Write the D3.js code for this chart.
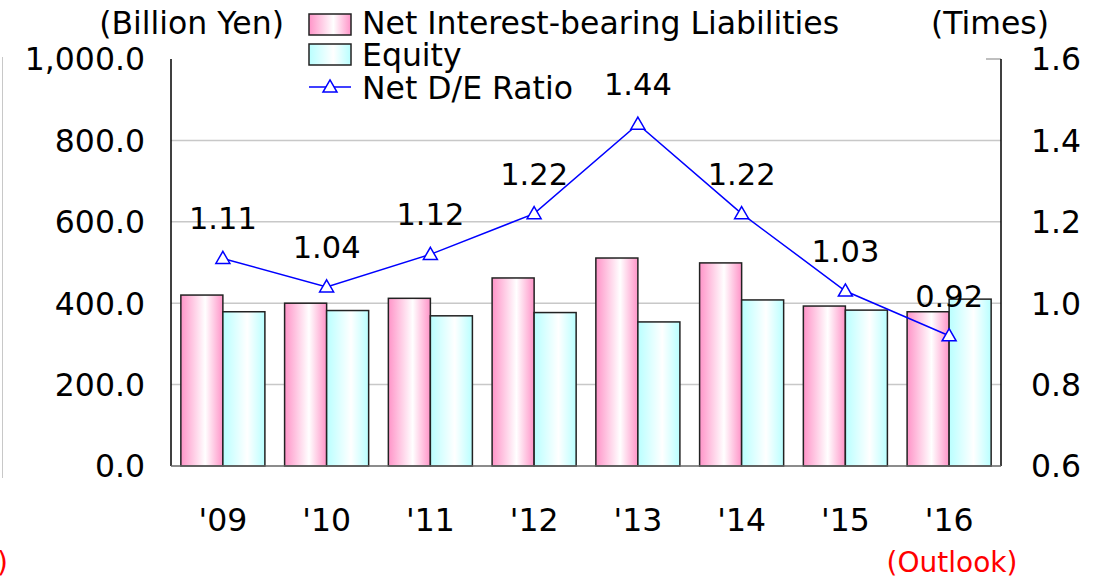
<!DOCTYPE html>
<html>
<head>
<meta charset="utf-8">
<script src="https://cdn.jsdelivr.net/npm/d3@7"></script>
<style>
  body { margin: 0; background: #fff; }
  text { font-family: "DejaVu Sans", Verdana, sans-serif; }
</style>
</head>
<body>
<div class="chart"></div>
<script>
var years = ["'09", "'10", "'11", "'12", "'13", "'14", "'15", "'16"];
var liabilities = [420, 400, 412, 462, 511, 499, 393, 379];
var equity = [379, 382, 369, 377, 354, 408, 383, 410];
var deRatio = [1.11, 1.04, 1.12, 1.22, 1.44, 1.22, 1.03, 0.92];
var leftTicks = [0, 200, 400, 600, 800, 1000];
var rightTicks = [0.6, 0.8, 1.0, 1.2, 1.4, 1.6];

var W = 1099, H = 577;
var plot = {left: 171, right: 1001, top: 59, bottom: 466};

var svg = d3.select(".chart")
  .append("svg")
  .attr("width", W)
  .attr("height", H);

var defs = svg.append("defs");
var makeGrad = function(id, edge) {
  var g = defs.append("linearGradient")
    .attr("id", id)
    .attr("x1", "0%").attr("x2", "100%")
    .attr("y1", "0%").attr("y2", "0%");
  g.append("stop").attr("offset", "0%").attr("stop-color", edge);
  g.append("stop").attr("offset", "58%").attr("stop-color", "#ffffff");
  g.append("stop").attr("offset", "100%").attr("stop-color", edge);
};
makeGrad("pinkGrad", "#ff94c8");
makeGrad("cyanGrad", "#b9ffff");

var x = d3.scaleBand()
  .domain(years)
  .range([plot.left, plot.right])
  .paddingInner(0.19)
  .paddingOuter(0.095);

var sub = d3.scaleBand()
  .domain(["liab", "eq"])
  .range([0, x.bandwidth()]);

var yLeft = d3.scaleLinear().domain([0, 1000]).range([plot.bottom, plot.top]);
var yRight = d3.scaleLinear().domain([0.6, 1.6]).range([plot.bottom, plot.top]);

// gridlines
svg.append("g")
  .selectAll("line")
  .data(leftTicks.slice(1, -1))
  .enter().append("line")
  .attr("x1", plot.left).attr("x2", plot.right)
  .attr("y1", function(d) { return yLeft(d); })
  .attr("y2", function(d) { return yLeft(d); })
  .attr("stroke", "#c8c8c8")
  .attr("stroke-width", 1.5);

// short tick at top right
svg.append("line")
  .attr("x1", plot.right - 15).attr("x2", plot.right)
  .attr("y1", plot.top).attr("y2", plot.top)
  .attr("stroke", "#aaaaaa").attr("stroke-width", 1.5);

// bars
var groups = svg.append("g")
  .selectAll("g")
  .data(years)
  .enter().append("g")
  .attr("transform", function(d) { return "translate(" + x(d) + ",0)"; });

groups.append("rect")
  .attr("x", sub("liab"))
  .attr("width", sub.bandwidth())
  .attr("y", function(d, i) { return yLeft(liabilities[i]); })
  .attr("height", function(d, i) { return plot.bottom - yLeft(liabilities[i]); })
  .attr("fill", "url(#pinkGrad)")
  .attr("stroke", "#222")
  .attr("stroke-width", 1.5);

groups.append("rect")
  .attr("x", sub("eq"))
  .attr("width", sub.bandwidth())
  .attr("y", function(d, i) { return yLeft(equity[i]); })
  .attr("height", function(d, i) { return plot.bottom - yLeft(equity[i]); })
  .attr("fill", "url(#cyanGrad)")
  .attr("stroke", "#222")
  .attr("stroke-width", 1.5);

// axes lines
svg.append("line")
  .attr("x1", plot.left).attr("x2", plot.left)
  .attr("y1", plot.top).attr("y2", plot.bottom)
  .attr("stroke", "#000").attr("stroke-width", 1.5);
svg.append("line")
  .attr("x1", plot.right).attr("x2", plot.right)
  .attr("y1", plot.top).attr("y2", plot.bottom)
  .attr("stroke", "#000").attr("stroke-width", 1.5);
svg.append("line")
  .attr("x1", plot.left).attr("x2", plot.right)
  .attr("y1", plot.bottom).attr("y2", plot.bottom)
  .attr("stroke", "#666").attr("stroke-width", 1.5);

// axis labels
var fmtLeft = d3.format(",.1f");
svg.append("g")
  .selectAll("text")
  .data(leftTicks)
  .enter().append("text")
  .attr("x", 145)
  .attr("y", function(d) { return yLeft(d); })
  .attr("dy", "0.36em")
  .attr("text-anchor", "end")
  .attr("font-size", 31.5)
  .text(function(d) { return fmtLeft(d); });

svg.append("g")
  .selectAll("text")
  .data(rightTicks)
  .enter().append("text")
  .attr("x", 1031)
  .attr("y", function(d) { return yRight(d); })
  .attr("dy", "0.36em")
  .attr("font-size", 31.5)
  .text(function(d) { return d3.format(".1f")(d); });

svg.append("g")
  .selectAll("text")
  .data(years)
  .enter().append("text")
  .attr("x", function(d) { return x(d) + x.bandwidth() / 2; })
  .attr("y", 520)
  .attr("dy", "0.36em")
  .attr("text-anchor", "middle")
  .attr("font-size", 31.5)
  .text(function(d) { return d; });

// ratio line
var line = d3.line()
  .x(function(d, i) { return x(years[i]) + x.bandwidth() / 2; })
  .y(function(d) { return yRight(d); });

svg.append("path")
  .datum(deRatio)
  .attr("d", line)
  .attr("fill", "none")
  .attr("stroke", "#0000ff")
  .attr("stroke-width", 1.5);

var tri = d3.symbol().type(d3.symbolTriangle).size(85);
svg.append("g")
  .selectAll("path")
  .data(deRatio)
  .enter().append("path")
  .attr("d", tri)
  .attr("transform", function(d, i) {
    return "translate(" + (x(years[i]) + x.bandwidth() / 2) + "," + (yRight(d) + 1) + ")";
  })
  .attr("fill", "#fff")
  .attr("stroke", "#0000ff")
  .attr("stroke-width", 1.5);

svg.append("g")
  .selectAll("text")
  .data(deRatio)
  .enter().append("text")
  .attr("x", function(d, i) { return x(years[i]) + x.bandwidth() / 2; })
  .attr("y", function(d) { return yRight(d) - 40; })
  .attr("dy", "0.36em")
  .attr("text-anchor", "middle")
  .attr("font-size", 30.5)
  .text(function(d) { return d3.format(".2f")(d); });

// titles
svg.append("text")
  .attr("x", 284).attr("y", 23).attr("dy", "0.36em")
  .attr("text-anchor", "end")
  .attr("font-size", 31.5)
  .text("(Billion Yen)");
svg.append("text")
  .attr("x", 1049).attr("y", 23).attr("dy", "0.36em")
  .attr("text-anchor", "end")
  .attr("font-size", 31.5)
  .text("(Times)");

// legend
var legend = svg.append("g");
legend.append("rect")
  .attr("x", 309).attr("y", 14).attr("width", 42).attr("height", 21)
  .attr("fill", "url(#pinkGrad)").attr("stroke", "#222").attr("stroke-width", 1.5);
legend.append("text")
  .attr("x", 362).attr("y", 23).attr("dy", "0.36em")
  .attr("font-size", 31.5)
  .text("Net Interest-bearing Liabilities");
legend.append("rect")
  .attr("x", 309).attr("y", 44).attr("width", 42).attr("height", 21)
  .attr("fill", "url(#cyanGrad)").attr("stroke", "#222").attr("stroke-width", 1.5);
legend.append("text")
  .attr("x", 362).attr("y", 55).attr("dy", "0.36em")
  .attr("font-size", 31.5)
  .text("Equity");
legend.append("line")
  .attr("x1", 309).attr("x2", 351).attr("y1", 87).attr("y2", 87)
  .attr("stroke", "#0000ff").attr("stroke-width", 1.5);
legend.append("path")
  .attr("d", tri)
  .attr("transform", "translate(330,88)")
  .attr("fill", "#fff")
  .attr("stroke", "#0000ff")
  .attr("stroke-width", 1.5);
legend.append("text")
  .attr("x", 362).attr("y", 88).attr("dy", "0.36em")
  .attr("font-size", 31.5)
  .text("Net D/E Ratio");

// notes
svg.append("text")
  .attr("x", 952).attr("y", 562).attr("dy", "0.36em")
  .attr("text-anchor", "middle")
  .attr("font-size", 28)
  .attr("fill", "#ff0000")
  .text("(Outlook)");
svg.append("text")
  .attr("x", -3).attr("y", 562).attr("dy", "0.36em")
  .attr("font-size", 28)
  .attr("fill", "#ff0000")
  .text(")");

// fragment of neighbouring frame at left edge
svg.append("line")
  .attr("x1", 2.5).attr("x2", 2.5).attr("y1", 57).attr("y2", 478)
  .attr("stroke", "#c8c8c8").attr("stroke-width", 1);
</script>
</body>
</html>
